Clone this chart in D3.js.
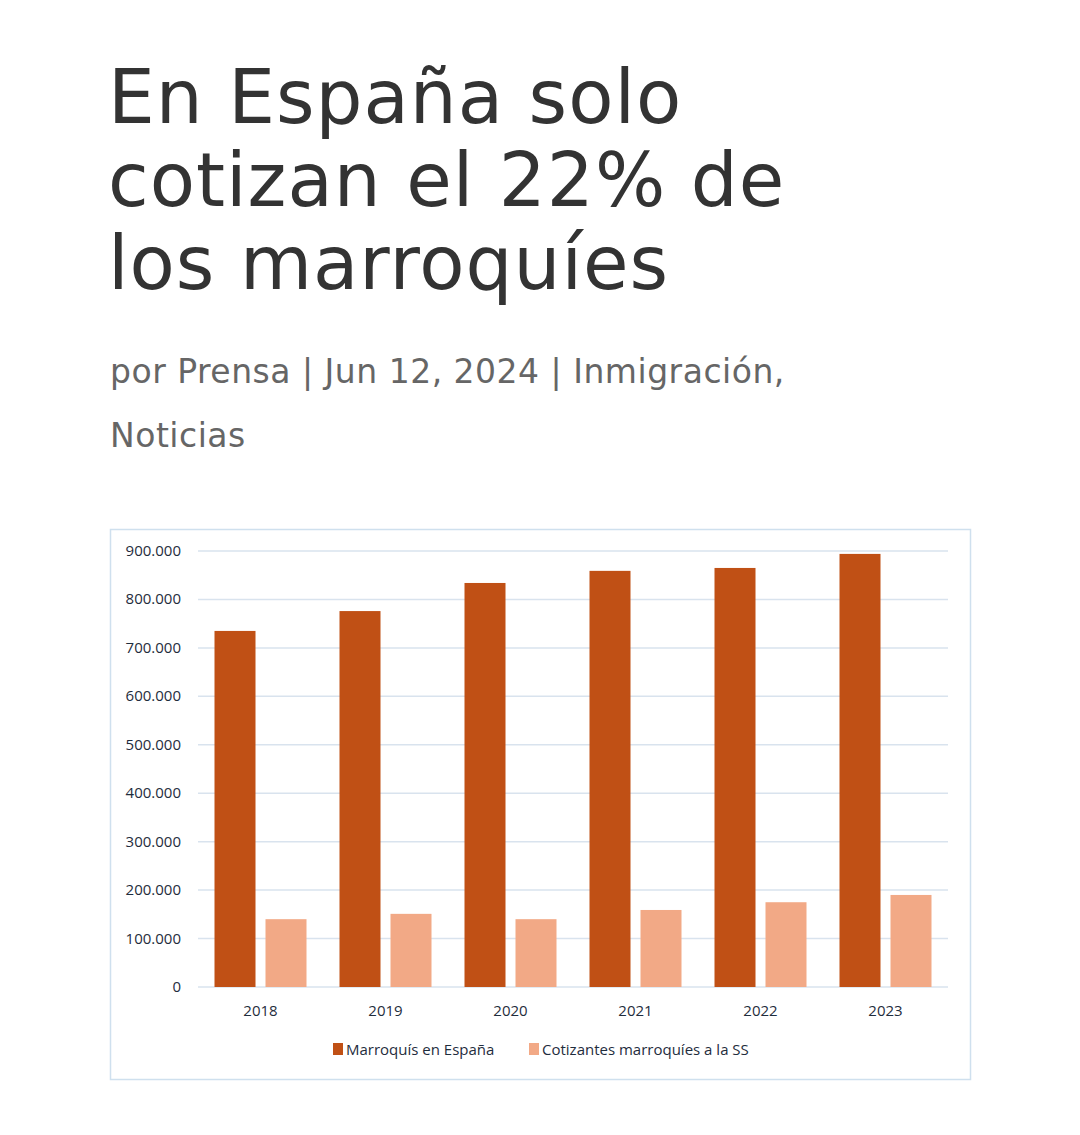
<!DOCTYPE html>
<html><head><meta charset="utf-8">
<script src="https://cdn.jsdelivr.net/npm/d3@7/dist/d3.min.js"></script>
<style>
body{margin:0;background:#fff;font-family:"Open Sans",sans-serif;}
h1{position:absolute;left:108px;top:56px;margin:0;font-family:"DejaVu Sans",sans-serif;font-weight:normal;font-size:74px;line-height:83px;color:#333;letter-spacing:1px;}
.meta{position:absolute;left:110px;top:340px;font-family:"DejaVu Sans",sans-serif;font-weight:normal;font-size:33px;line-height:64px;color:#666;letter-spacing:0.5px;}
svg{position:absolute;left:0;top:0;}
</style></head><body>
<h1>En España solo<br>cotizan el 22% de<br>los marroquíes</h1>
<div class="meta">por Prensa | Jun 12, 2024 | Inmigración,<br>Noticias</div>
<svg width="1080" height="1135"></svg>
<script>
const years=["2018","2019","2020","2021","2022","2023"];
const marroquis=[735000,776000,834000,859000,865000,894000];
const cotizantes=[140000,151000,140000,159000,175000,190000];
const yTicks=[0,100000,200000,300000,400000,500000,600000,700000,800000,900000];
const seriesNames=["Marroquís en España","Cotizantes marroquíes a la SS"];
const colors=["#c05015","#f2a986"];

const svg=d3.select("svg");
svg.append("rect").attr("x",110.5).attr("y",529.5).attr("width",860).attr("height",550).attr("fill","#fff").attr("stroke","#cfe0ee").attr("stroke-width",1.5);
const x=d3.scaleBand().domain(years).range([198,948]);
const y=d3.scaleLinear().domain([0,900000]).range([987,551]);
const fmt=d=>d3.format(",")(d).replace(/,/g,".");
const g=svg.append("g");
g.selectAll(".grid").data(yTicks).join("line").attr("x1",198).attr("x2",948)
 .attr("y1",d=>y(d)).attr("y2",d=>y(d)).attr("stroke","#d9e3ee").attr("stroke-width",1.5);
g.selectAll(".yl").data(yTicks).join("text").attr("x",181).attr("y",d=>y(d)+5).attr("text-anchor","end")
 .attr("font-size",15).attr("fill","#1f2d3d").text(fmt);
const bw=41;
[marroquis,cotizantes].forEach((s,i)=>{
 g.selectAll(".b"+i).data(years).join("rect")
  .attr("x",d=>x(d)+x.bandwidth()/2+(i===0?-46:5)).attr("width",bw)
  .attr("y",(d,j)=>y(s[j])).attr("height",(d,j)=>y(0)-y(s[j])).attr("fill",colors[i]);
});
g.selectAll(".xl").data(years).join("text").attr("x",d=>x(d)+x.bandwidth()/2).attr("y",1016).attr("text-anchor","middle")
 .attr("font-size",15).attr("fill","#1f2d3d").text(d=>d);
const lx=[333,529];
seriesNames.forEach((n,i)=>{
 g.append("rect").attr("x",lx[i]).attr("y",1043).attr("width",10).attr("height",12).attr("fill",colors[i]);
 g.append("text").attr("x",lx[i]+13).attr("y",1055).attr("font-size",15).attr("fill","#1f2d3d").text(n);
});
</script></body></html>
